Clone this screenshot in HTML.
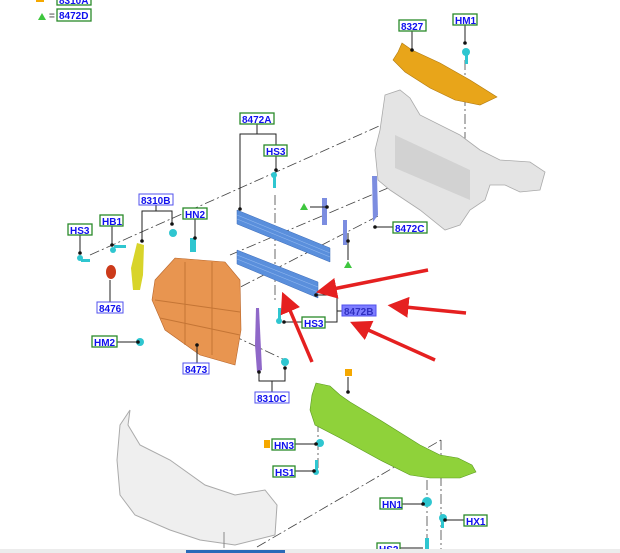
<!DOCTYPE html>
<html><head><meta charset="utf-8"><style>
html,body{margin:0;padding:0;background:#fff;width:620px;height:553px;overflow:hidden}
svg{display:block}
text{font-family:"Liberation Sans",sans-serif;font-weight:bold;font-size:10px;fill:#1010ee}
</style></head><body>
<svg width="620" height="553" viewBox="0 0 620 553">
<defs>
<marker id="ah" markerWidth="6" markerHeight="6" refX="1" refY="3" orient="auto" markerUnits="strokeWidth"><path d="M0,0 L6,3 L0,6 z" fill="#e52020"/></marker>
</defs>
<g stroke="#444" stroke-width="0.8" fill="none" stroke-dasharray="10,3,2,3">
<line x1="90" y1="255" x2="415" y2="110"/>
<line x1="225" y1="295" x2="380" y2="215"/>
<line x1="230" y1="255" x2="395" y2="185"/>
<line x1="257" y1="547" x2="441" y2="440"/>
<line x1="441" y1="440" x2="441" y2="553"/>
<line x1="465" y1="60" x2="465" y2="150"/>
<line x1="275" y1="195" x2="275" y2="300"/>
<line x1="200" y1="320" x2="285" y2="360"/>
<line x1="427" y1="480" x2="427" y2="553"/>
<line x1="318" y1="422" x2="318" y2="470"/>
</g>
<!-- 8327 orange -->
<polygon points="402,43 412,50 440,63 470,80 497,97 480,105 455,100 430,88 405,72 393,60 398,52" fill="#e8a51a" stroke="#b07a10" stroke-width="0.6"/>
<!-- radiator support gray -->
<polygon points="385,95 400,90 410,98 420,115 460,135 480,150 500,160 530,162 545,172 540,190 520,192 505,185 490,185 485,200 470,210 460,225 445,230 420,210 390,190 378,180 375,150 380,130" fill="#e4e4e4" stroke="#aaa" stroke-width="0.8"/>
<polygon points="395,135 470,170 470,200 395,168" fill="#d2d2d2"/>
<!-- blue shutters -->
<polygon points="237,210 330,248 330,262 237,224" fill="#5a8fdc" stroke="#3a6ab8" stroke-width="0.5"/>
<polygon points="237,250 318,282 318,298 237,264" fill="#5a8fdc" stroke="#3a6ab8" stroke-width="0.5"/>
<g stroke="#8fb6ee" stroke-width="0.6"><line x1="237" y1="215" x2="330" y2="253"/><line x1="237" y1="219" x2="330" y2="257"/><line x1="237" y1="255" x2="318" y2="287"/><line x1="237" y1="259" x2="318" y2="292"/></g>
<polygon points="372,176 377,176 378,215 373,222" fill="#7c8de0"/>
<polygon points="322,198 327,198 327,225 322,225" fill="#7c8de0"/>
<polygon points="343,220 347,220 347,245 343,245" fill="#7c8de0"/>
<!-- orange 8473 -->
<polygon points="155,280 175,258 225,262 240,280 241,330 235,365 200,355 165,330 152,300" fill="#e89550" stroke="#b8652a" stroke-width="0.6"/>
<g stroke="#c47535" stroke-width="1"><line x1="155" y1="300" x2="240" y2="312"/><line x1="160" y1="318" x2="240" y2="335"/><line x1="185" y1="262" x2="185" y2="345"/><line x1="212" y1="262" x2="212" y2="355"/></g>
<!-- yellow 8310B -->
<polygon points="137,243 144,245 143,275 140,290 133,290 131,268" fill="#d8d42a"/>
<!-- red 8476 -->
<ellipse cx="111" cy="272" rx="5" ry="7" fill="#cc3a1a"/>
<!-- purple 8310C -->
<polygon points="256,308 259,308 262,370 257,372 255,345" fill="#8f68c8"/>
<!-- green undertray -->
<polygon points="316,383 330,386 340,395 350,402 380,420 420,445 440,455 458,458 472,465 476,472 460,478 430,478 410,475 380,460 340,438 315,425 310,410 312,395" fill="#8fd23a" stroke="#5a9a20" stroke-width="0.6"/>
<!-- bumper -->
<path d="M130,410 L120,425 L117,460 L120,495 L135,515 L170,530 L200,540 L235,545 L275,535 L277,505 L265,490 L235,495 L205,485 L170,460 L140,445 L128,425 Z" fill="#efefef" stroke="#aaa" stroke-width="1"/>
<line x1="224" y1="532" x2="224" y2="548" stroke="#888"/>
<!-- cyan fasteners -->
<g fill="#2fc6d0">
<circle cx="466" cy="52" r="4"/><rect x="465" y="54" width="3" height="10"/>
<circle cx="274" cy="175" r="3"/><rect x="273" y="175" width="3" height="13"/>
<circle cx="80" cy="258" r="3"/><rect x="81" y="259" width="9" height="3"/>
<circle cx="113" cy="250" r="3"/><rect x="114" y="245" width="12" height="3"/>
<circle cx="173" cy="233" r="4"/>
<rect x="190" y="238" width="6" height="14"/>
<circle cx="140" cy="342" r="4"/>
<circle cx="285" cy="362" r="4"/>
<rect x="278" y="308" width="3" height="12"/><circle cx="279" cy="321" r="3"/>
<circle cx="320" cy="443" r="4"/>
<rect x="315" y="460" width="3" height="12"/><circle cx="316" cy="472" r="3"/>
<circle cx="427" cy="502" r="5"/>
<circle cx="443" cy="518" r="4"/><rect x="441" y="518" width="3" height="10"/>
<rect x="425" y="538" width="4" height="12"/>
</g>
<!-- leader lines -->
<g stroke="#222" stroke-width="1" fill="none">
<line x1="412" y1="31" x2="412" y2="50"/>
<line x1="465" y1="25" x2="465" y2="43"/>
<polyline points="240,210 240,134 276,134 276,145"/><line x1="257" y1="124" x2="257" y2="134"/>
<line x1="276" y1="156" x2="276" y2="170"/>
<polyline points="142,242 142,211 172,211 172,224"/><line x1="156" y1="205" x2="156" y2="211"/>
<line x1="195" y1="219" x2="195" y2="238"/>
<line x1="112" y1="226" x2="112" y2="245"/>
<line x1="80" y1="235" x2="80" y2="253"/>
<line x1="375" y1="227" x2="393" y2="227"/>
<line x1="348" y1="233" x2="348" y2="260"/>
<line x1="327" y1="207" x2="310" y2="207"/>
<line x1="110" y1="302" x2="110" y2="280"/>
<line x1="117" y1="342" x2="138" y2="342"/>
<line x1="197" y1="363" x2="197" y2="345"/>
<polyline points="259,372 259,381 285,381 285,368"/><line x1="272" y1="381" x2="272" y2="392"/>
<polyline points="316,295 337,295 337,322 325,322"/><line x1="337" y1="311" x2="342" y2="311"/>
<line x1="284" y1="322" x2="302" y2="322"/>
<line x1="348" y1="377" x2="348" y2="392"/>
<line x1="295" y1="444" x2="318" y2="444"/>
<line x1="295" y1="471" x2="314" y2="471"/>
<line x1="402" y1="504" x2="425" y2="504"/>
<line x1="445" y1="520" x2="464" y2="520"/>
<line x1="400" y1="548" x2="423" y2="548"/>
</g>
<g fill="#111"><circle cx="412" cy="50" r="1.8"/><circle cx="465" cy="43" r="1.8"/><circle cx="240" cy="209" r="1.8"/><circle cx="276" cy="170" r="1.8"/><circle cx="142" cy="241" r="1.8"/><circle cx="172" cy="224" r="1.8"/><circle cx="195" cy="238" r="1.8"/><circle cx="112" cy="245" r="1.8"/><circle cx="80" cy="253" r="1.8"/><circle cx="375" cy="227" r="1.8"/><circle cx="327" cy="207" r="1.8"/><circle cx="348" cy="241" r="1.8"/><circle cx="138" cy="342" r="1.8"/><circle cx="197" cy="345" r="1.8"/><circle cx="316" cy="295" r="1.8"/><circle cx="284" cy="322" r="1.8"/><circle cx="259" cy="372" r="1.8"/><circle cx="285" cy="368" r="1.8"/><circle cx="348" cy="392" r="1.8"/><circle cx="316" cy="444" r="1.8"/><circle cx="314" cy="471" r="1.8"/><circle cx="423" cy="504" r="1.8"/><circle cx="445" cy="520" r="1.8"/></g>
<!-- symbols -->
<rect x="36" y="-4" width="8" height="6" fill="#f5a800"/>
<polygon points="38,20 42,13 46,20" fill="#3ec63e"/><text x="49" y="19" style="fill:#666">=</text>
<polygon points="300,210 304,203 308,210" fill="#3ec63e"/>
<polygon points="344,268 348,261 352,268" fill="#3ec63e"/>
<rect x="345" y="369" width="7" height="7" fill="#f5a800"/>
<rect x="264" y="440" width="6" height="8" fill="#f5a800"/>
<!-- labels -->
<g fill="#fff" stroke="#2a8a2a" stroke-width="1.3">
<rect x="57" y="-5" width="34" height="10"/><rect x="57" y="9" width="34" height="12"/>
<rect x="399" y="20" width="27" height="11"/><rect x="453" y="14" width="24" height="11"/>
<rect x="240" y="113" width="34" height="11"/><rect x="264" y="145" width="23" height="11"/>
<rect x="183" y="208" width="24" height="11"/><rect x="100" y="215" width="23" height="11"/>
<rect x="68" y="224" width="24" height="11"/><rect x="393" y="222" width="34" height="11"/>
<rect x="92" y="336" width="25" height="11"/><rect x="302" y="317" width="23" height="11"/>
<rect x="272" y="439" width="23" height="11"/><rect x="273" y="466" width="22" height="11"/>
<rect x="380" y="498" width="22" height="11"/><rect x="464" y="515" width="23" height="11"/>
<rect x="377" y="543" width="23" height="11"/>
</g>
<g fill="#fff" stroke="#5050ee" stroke-width="1">
<rect x="139" y="194" width="34" height="11"/><rect x="97" y="302" width="26" height="11"/>
<rect x="183" y="363" width="26" height="11"/><rect x="255" y="392" width="34" height="11"/>
</g>
<rect x="342" y="305" width="34" height="11" fill="#7d7dff" stroke="#5050ee"/>
<text x="59" y="4">8310A</text><text x="59" y="19">8472D</text>
<text x="401" y="30">8327</text><text x="455" y="24">HM1</text>
<text x="242" y="123">8472A</text><text x="266" y="155">HS3</text>
<text x="141" y="204">8310B</text><text x="185" y="218">HN2</text>
<text x="102" y="225">HB1</text><text x="70" y="234">HS3</text>
<text x="395" y="232">8472C</text>
<text x="99" y="312">8476</text><text x="94" y="346">HM2</text>
<text x="185" y="373">8473</text><text x="257" y="402">8310C</text>
<text x="304" y="327">HS3</text><text x="344" y="315" style="fill:#3030c0">8472B</text>
<text x="274" y="449">HN3</text><text x="275" y="476">HS1</text>
<text x="382" y="508">HN1</text><text x="466" y="525">HX1</text>
<text x="379" y="553">HS2</text>
<!-- red arrows -->
<g stroke="#e52020" stroke-width="3.5" fill="none">
<line x1="428" y1="270" x2="333" y2="289" marker-end="url(#ah)"/>
<line x1="466" y1="313" x2="405" y2="307" marker-end="url(#ah)"/>
<line x1="435" y1="360" x2="366" y2="329" marker-end="url(#ah)"/>
<line x1="312" y1="362" x2="289" y2="308" marker-end="url(#ah)"/>
</g>
<!-- bottom bar -->
<rect x="0" y="549" width="620" height="4" fill="#ececec"/>
<rect x="186" y="550" width="99" height="3" fill="#2a6ab8"/>
</svg>
</body></html>
